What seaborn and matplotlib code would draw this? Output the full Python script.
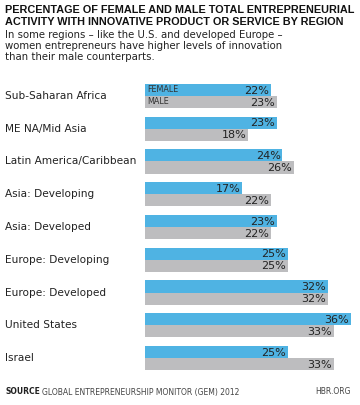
import pandas as pd
import matplotlib
matplotlib.use('Agg')
import matplotlib.pyplot as plt
import seaborn as sns

regions = ['Sub-Saharan Africa', 'ME NA/Mid Asia', 'Latin America/Caribbean',
           'Asia: Developing', 'Asia: Developed', 'Europe: Developing',
           'Europe: Developed', 'United States', 'Israel']
female = [22, 23, 24, 17, 23, 25, 32, 36, 25]
male = [23, 18, 26, 22, 22, 25, 32, 33, 33]
series = ['FEMALE', 'MALE']
colors = ['#4fb3e3', '#bdbdbf']

df = pd.DataFrame({
    'region': regions * 2,
    'value': female + male,
    'sex': ['FEMALE'] * len(regions) + ['MALE'] * len(regions),
})

sns.set_style('white')
plt.rcParams['font.family'] = ['DejaVu Sans']

fig = plt.figure(figsize=(3.6, 4.05), dpi=100)
ax = fig.add_axes([145 / 360, 1 - 374.4 / 405, 211.6 / 360, 294.8 / 405])

sns.barplot(data=df, y='region', x='value', hue='sex', order=regions,
            hue_order=series, palette=colors, width=0.735, orient='h',
            saturation=1, edgecolor='none', legend=False, ax=ax)

ax.set_xlim(0, 37)
ax.set_ylim(8.5, -0.5)
ax.set_xlabel('')
ax.set_ylabel('')
ax.set_xticks([])
ax.set_yticks([])
sns.despine(ax=ax, left=True, bottom=True)

# value labels at the end of each bar
for cont in ax.containers:
    for bar in cont:
        w = bar.get_width()
        yc = bar.get_y() + bar.get_height() / 2
        ax.text(w - 0.3, yc + 0.02, f'{int(round(w))}%', ha='right', va='center',
                fontsize=8, color='#222222')

# series names inside the first group
for cont, name in zip(ax.containers, series):
    bar = cont[0]
    ax.text(0.4, bar.get_y() + bar.get_height() / 2, name, ha='left',
            va='center', fontsize=5.8, color='#333333')

# region labels on the left
for i, r in enumerate(regions):
    ax.text(-140 / 5.72, i, r, ha='left', va='center', fontsize=7.6,
            color='#222222', clip_on=False)

fig.text(5 / 360, 1 - 5 / 405,
         'PERCENTAGE OF FEMALE AND MALE TOTAL ENTREPRENEURIAL\n'
         'ACTIVITY WITH INNOVATIVE PRODUCT OR SERVICE BY REGION',
         ha='left', va='top', fontsize=7.8, fontweight='bold', color='#111111',
         linespacing=1.2, family='Liberation Sans')
fig.text(5 / 360, 1 - 30 / 405,
         'In some regions \u2013 like the U.S. and developed Europe \u2013\n'
         'women entrepreneurs have higher levels of innovation\n'
         'than their male counterparts.',
         ha='left', va='top', fontsize=7.3, color='#222222', linespacing=1.15)

fig.text(5 / 360, 1 - 392 / 405, 'SOURCE', ha='left', va='center',
         fontsize=5.5, fontweight='bold', color='#222222')
fig.text(42 / 360, 1 - 392 / 405, 'GLOBAL ENTREPRENEURSHIP MONITOR (GEM) 2012',
         ha='left', va='center', fontsize=5.5, color='#444444')
fig.text(351 / 360, 1 - 392 / 405, 'HBR.ORG', ha='right', va='center',
         fontsize=5.5, color='#444444')

fig.savefig('out.png', dpi=100)
